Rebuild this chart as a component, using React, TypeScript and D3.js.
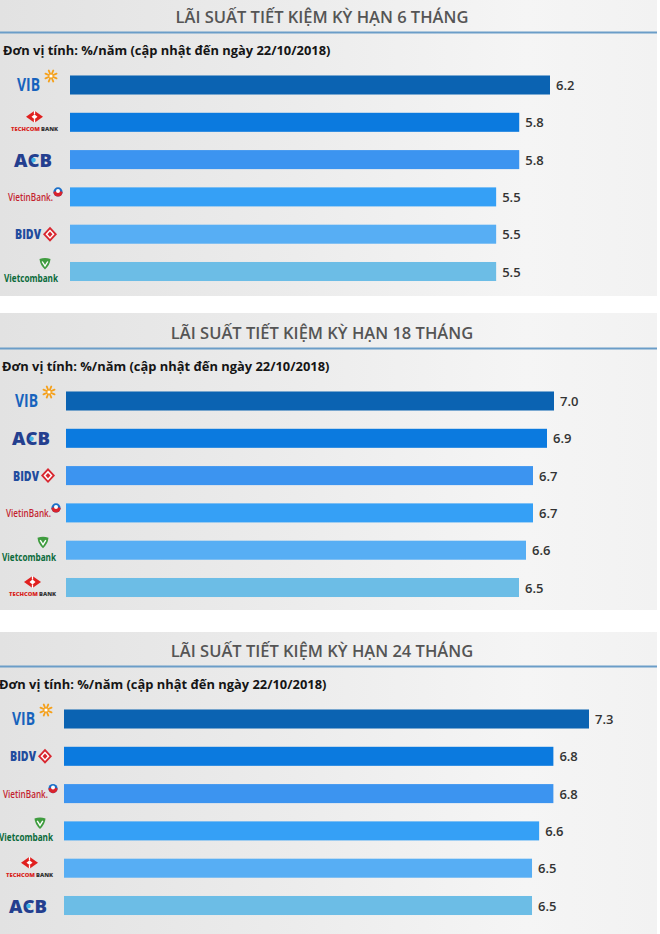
import React from "react";
import * as d3 from "d3";

// ---------- data ----------
const titles = [
  "LÃI SUẤT TIẾT KIỆM KỲ HẠN 6 THÁNG",
  "LÃI SUẤT TIẾT KIỆM KỲ HẠN 18 THÁNG",
  "LÃI SUẤT TIẾT KIỆM KỲ HẠN 24 THÁNG",
];
const subtitleText = "Đơn vị tính: %/năm (cập nhật đến ngày 22/10/2018)";

const banks6 = ["VIB", "Techcombank", "ACB", "VietinBank", "BIDV", "Vietcombank"];
const rates6 = [6.2, 5.8, 5.8, 5.5, 5.5, 5.5];

const banks18 = ["VIB", "ACB", "BIDV", "VietinBank", "Vietcombank", "Techcombank"];
const rates18 = [7.0, 6.9, 6.7, 6.7, 6.6, 6.5];

const banks24 = ["VIB", "BIDV", "VietinBank", "Vietcombank", "Techcombank", "ACB"];
const rates24 = [7.3, 6.8, 6.8, 6.6, 6.5, 6.5];

// ---------- style / layout ----------
const barColors = ["#0b63b2", "#0b7adf", "#3c94f0", "#35a0f6", "#57aef4", "#6cbde6"];
const W = 660;
const H = 934;

const layout = [
  { top: 0, bgTop: 0, bgBottom: 296, x0: 73, x1: 550, barLeft: 70, logoDx: 0, subX: 3 },
  { top: 316, bgTop: 313, bgBottom: 610, x0: 64, x1: 554, barLeft: 66, logoDx: -2, subX: 2 },
  { top: 634, bgTop: 632, bgBottom: 934, x0: 69, x1: 589, barLeft: 64, logoDx: -5, subX: -1 },
];
const series = [
  { banks: banks6, rates: rates6 },
  { banks: banks18, rates: rates18 },
  { banks: banks24, rates: rates24 },
];

const FONT = "'Open Sans', 'Noto Sans', sans-serif";
const fmt = d3.format(".1f");

function Logo({ name, cy, dx }: { name: string; cy: number; dx: number }) {
  const t = `translate(${dx},${cy})`;
  if (name === "VIB") {
    const spokes = d3.range(8).map((i) => (i * Math.PI) / 4 + Math.PI / 8);
    return (
      <g transform={t}>
        <text x={17} y={6} fontFamily={FONT} fontWeight={700} fontSize={17} fill="#1763bd" textLength={23} lengthAdjust="spacingAndGlyphs">VIB</text>
        <g transform="translate(51,-9)">
          {spokes.map((a, i) => (
            <line key={i} x1={0} y1={0} x2={Math.cos(a) * 6} y2={Math.sin(a) * 6} stroke="#f5a01a" strokeWidth={1.8} strokeLinecap="round" />
          ))}
          <circle r={1.6} fill="#fff" />
        </g>
      </g>
    );
  }
  if (name === "Techcombank") {
    return (
      <g transform={t}>
        <g transform="translate(34.5,-5.5)">
          <polygon points="-8.5,0 0,-6 8.5,0 0,6" fill="#e0201f" />
          <polygon points="-3,0 0,-2.4 3,0 0,2.4" fill="#fff" />
          <line x1={0} y1={-6} x2={0} y2={-2.4} stroke="#fff" strokeWidth={1.3} />
          <line x1={0} y1={2.4} x2={0} y2={6} stroke="#fff" strokeWidth={1.3} />
        </g>
        <text x={11} y={8.5} fontFamily={FONT} fontWeight={800} fontSize={5.4} fill="#d9251d" textLength={29} lengthAdjust="spacingAndGlyphs">TECHCOM</text>
        <text x={41} y={8.5} fontFamily={FONT} fontWeight={800} fontSize={5.4} fill="#333" textLength={17} lengthAdjust="spacingAndGlyphs">BANK</text>
      </g>
    );
  }
  if (name === "ACB") {
    return (
      <g transform={t}>
        <text x={14} y={7} fontFamily={FONT} fontWeight={800} fontSize={18} fill="#243f8f" textLength={38} lengthAdjust="spacingAndGlyphs">ACB</text>
        <circle cx={33.5} cy={0.5} r={2.3} fill="#3fb6e8" />
      </g>
    );
  }
  if (name === "VietinBank") {
    return (
      <g transform={t}>
        <text x={8} y={4.5} fontFamily={FONT} fontWeight={600} fontSize={10} fill="#c41f2f" textLength={45} lengthAdjust="spacingAndGlyphs">VietinBank.</text>
        <g transform="translate(58,-5)">
          <circle r={4.6} fill="#1b6fc8" />
          <path d="M-4.6,0 A4.6,4.6 0 0 0 4.6,0 Q0,-2 -4.6,0 Z" fill="#d9232d" />
          <circle r={2} cy={-1} fill="#fff" />
        </g>
      </g>
    );
  }
  if (name === "BIDV") {
    return (
      <g transform={t}>
        <text x={15} y={5} fontFamily={FONT} fontWeight={800} fontSize={13.5} fill="#1f4c9e" textLength={26} lengthAdjust="spacingAndGlyphs">BIDV</text>
        <g transform="translate(50,0)">
          <polygon points="-7,0 0,-7.5 7,0 0,7.5" fill="#d8262f" />
          <polygon points="-4.5,0 0,-4.8 4.5,0 0,4.8" fill="#fff" />
          <polygon points="-2.5,0 0,-2.7 2.5,0 0,2.7" fill="#d8262f" />
        </g>
      </g>
    );
  }
  // Vietcombank
  return (
    <g transform={t}>
      <g transform="translate(45,-7.5)">
        <path d="M-5.5,-5 Q0,-7 5.5,-5 Q5,1 0,5.5 Q-5,1 -5.5,-5 Z" fill="#3f9c3f" />
        <path d="M-2.8,-2.5 L0,2 L2.8,-2.5" fill="none" stroke="#fff" strokeWidth={1.4} />
      </g>
      <text x={4} y={10.5} fontFamily={FONT} fontWeight={700} fontSize={11} fill="#0a6a3a" textLength={54} lengthAdjust="spacingAndGlyphs">Vietcombank</text>
    </g>
  );
}

function Panel({ idx }: { idx: number }) {
  const L = layout[idx];
  const { banks, rates } = series[idx];
  const x = d3.scaleLinear().domain([0, d3.max(rates) as number]).range([L.x0, L.x1]);
  const n = banks.length;
  const step = 37.3;
  const y = d3
    .scaleBand<number>()
    .domain(d3.range(n))
    .range([L.top + 85 - step / 2, L.top + 85 - step / 2 + n * step])
    .paddingInner(0.49)
    .paddingOuter(0.245);
  const gid = `bg${idx}`;
  return (
    <g>
      <defs>
        <linearGradient id={gid} x1="0" x2="1" y1="0" y2="0">
          <stop offset="0" stopColor="#e2e2e2" />
          <stop offset="0.45" stopColor="#ececec" />
          <stop offset="0.8" stopColor="#f5f5f5" />
          <stop offset="1" stopColor="#f2f2f2" />
        </linearGradient>
      </defs>
      <rect x={0} y={L.bgTop} width={657} height={L.bgBottom - L.bgTop} fill={`url(#${gid})`} />
      <text x={322} y={L.top + 23} textAnchor="middle" fontFamily={FONT} fontWeight={600} fontSize={16.5} fill="#555">
        {titles[idx]}
      </text>
      <line x1={0} x2={657} y1={L.top + 32.5} y2={L.top + 32.5} stroke="#6b9dc8" strokeWidth={2} />
      <text x={L.subX} y={L.top + 55} fontFamily={FONT} fontWeight={700} fontSize={12.9} fill="#151515">
        {subtitleText}
      </text>
      {banks.map((b, i) => {
        const by = y(i) as number;
        const bw = y.bandwidth();
        const xe = x(rates[i]);
        return (
          <g key={b}>
            <rect x={L.barLeft} y={by} width={xe - L.barLeft} height={bw} fill={barColors[i]} />
            <text x={xe + 6} y={by + bw / 2 + 5} fontFamily={FONT} fontWeight={600} fontSize={13} fill="#333">
              {fmt(rates[i])}
            </text>
            <Logo name={b} cy={by + bw / 2} dx={L.logoDx} />
          </g>
        );
      })}
    </g>
  );
}

export default function App() {
  return (
    <svg width={W} height={H} style={{ position: "absolute", left: 0, top: 0, background: "#fff" }}>
      <rect width={W} height={H} fill="#fff" />
      {layout.map((_, i) => (
        <Panel key={i} idx={i} />
      ))}
    </svg>
  );
}
